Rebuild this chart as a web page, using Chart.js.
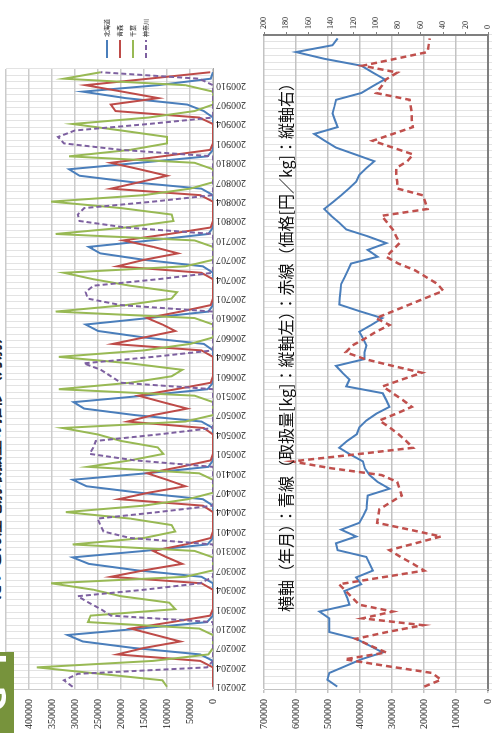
<!DOCTYPE html>
<html lang="ja">
<head>
<meta charset="UTF-8">
<title>だいこん 産地別取扱量と価格</title>
<script src="https://cdn.jsdelivr.net/npm/chart.js"></script>
<style>
    body {
        margin: 0;
        width: 493px;
        height: 733px;
        overflow: hidden;
        background: #fff;
        position: relative;
    }
    /* the slide is laid out landscape and turned a quarter turn */
    #page {
        position: absolute;
        left: 0;
        top: 0;
        width: 733px;
        height: 493px;
        overflow: hidden;
        transform-origin: 0 0;
        transform: translate(0, 733px) rotate(-90deg);
        font-family: "Noto Sans CJK JP", sans-serif;
    }
    #title {
        position: absolute;
        left: 133px;
        top: -19px;
        font-size: 16px;
        font-weight: bold;
        color: #222;
        white-space: nowrap;
    }
    #badge {
        position: absolute;
        left: 0;
        top: 0;
        width: 81px;
        height: 14px;
        background: #77933c;
        overflow: hidden;
        z-index: 5;
    }
    #badge span {
        position: absolute;
        left: 22px;
        top: -22px;
        font: bold 30px "DejaVu Sans", sans-serif;
        color: #fff;
        letter-spacing: 18px;
    }
    #topChart {
        position: absolute;
        left: 0;
        top: 0;
    }
    #bottomChart {
        position: absolute;
        left: 0;
        top: 250px;
    }
    #note {
        position: absolute;
        left: 121px;
        top: 273px;
        font-size: 16px;
        color: #111;
        white-space: nowrap;
        z-index: 4;
    }
</style>
</head>
<body>
<div id="page">
    <div id="title">だいこん産地別取扱量の推移（月別）</div>
    <div id="badge"><span>GT</span></div>
    <canvas id="topChart" width="733" height="258"></canvas>
    <canvas id="bottomChart" width="733" height="290"></canvas>
    <div id="note">横軸（年月）：青線（取扱量[kg]：縦軸左）：赤線（価格[円／kg]：縦軸右）</div>
</div>

<script>
    const years = ['2002', '2003', '2004', '2005', '2006', '2007', '2008', '2009'];
    const months = ['01', '02', '03', '04', '05', '06', '07', '08', '09', '10', '11', '12'];
    const monthLabels = [];
    years.forEach(y => months.forEach(m => monthLabels.push(y + m)));

    const seriesNames = ['北海道', '青森', '千葉', '神奈川'];

    // monthly volume by area, kg (one row of 12 per year)
    const hokkaido = [
        0, 0, 0, 0, 0, 28000, 173000, 283000, 316000, 158000, 13000, 0,
        0, 0, 0, 0, 0, 25000, 165000, 270000, 305000, 150000, 12000, 0,
        0, 0, 0, 0, 0, 22000, 160000, 275000, 305000, 145000, 10000, 0,
        0, 0, 0, 0, 0, 25000, 170000, 280000, 303000, 150000, 12000, 0,
        0, 0, 0, 0, 0, 20000, 150000, 250000, 277000, 140000, 10000, 0,
        0, 0, 0, 0, 0, 22000, 150000, 245000, 270000, 135000, 10000, 0,
        0, 0, 0, 0, 0, 25000, 175000, 290000, 313000, 160000, 12000, 0,
        0, 0, 0, 0, 0, 20000, 56000, 190000, 283000, 120000, 5000, 0
    ];
    const aomori = [
        0, 0, 0, 0, 28000, 208000, 150000, 71000, 125000, 179000, 90000, 6000,
        0, 0, 0, 0, 25000, 222000, 150000, 67000, 100000, 130000, 60000, 5000,
        0, 0, 0, 0, 22000, 205000, 140000, 60000, 100000, 143000, 70000, 5000,
        0, 0, 0, 0, 20000, 186000, 130000, 56000, 110000, 162000, 80000, 5000,
        0, 0, 0, 0, 25000, 218000, 150000, 82000, 110000, 143000, 70000, 5000,
        0, 0, 0, 0, 25000, 208000, 150000, 76000, 130000, 195000, 95000, 5000,
        0, 0, 0, 0, 28000, 222000, 160000, 100000, 160000, 222000, 110000, 6000,
        0, 0, 0, 0, 30000, 212000, 222000, 119000, 197000, 277000, 140000, 6000
    ];
    const chiba = [
        100000, 110000, 246000, 383000, 130000, 10000, 0, 0, 0, 30000, 272000, 266000,
        82000, 95000, 200000, 260000, 352000, 60000, 0, 0, 0, 40000, 305000, 150000,
        82000, 90000, 180000, 320000, 150000, 54000, 0, 0, 0, 30000, 272000, 180000,
        108000, 120000, 200000, 250000, 327000, 60000, 0, 0, 0, 40000, 335000, 180000,
        90000, 67000, 180000, 335000, 150000, 50000, 0, 0, 0, 40000, 342000, 190000,
        90000, 78000, 180000, 260000, 324000, 60000, 0, 0, 0, 40000, 342000, 190000,
        86000, 90000, 200000, 352000, 150000, 50000, 0, 0, 0, 40000, 313000, 180000,
        100000, 100000, 200000, 305000, 140000, 40000, 0, 0, 0, 60000, 324000, 244000
    ];
    const kanagawa = [
        305000, 324000, 294000, 13000, 0, 0, 0, 0, 0, 0, 0, 222000,
        244000, 270000, 294000, 150000, 28000, 0, 0, 0, 0, 0, 0, 180000,
        238000, 245000, 251000, 120000, 0, 0, 0, 0, 0, 0, 0, 170000,
        268000, 260000, 255000, 120000, 0, 0, 0, 0, 0, 0, 0, 200000,
        222000, 244000, 281000, 130000, 0, 0, 0, 0, 0, 0, 0, 200000,
        272000, 277000, 260000, 120000, 0, 0, 0, 0, 0, 0, 0, 190000,
        290000, 294000, 280000, 130000, 0, 0, 0, 0, 0, 0, 0, 200000,
        324000, 337000, 300000, 140000, 0, 0, 0, 0, 0, 0, 30000, 244000
    ];

    // market total: volume (kg, left axis) and price (yen/kg, right axis)
    const totalVolume = [
        471000, 502000, 496000, 446000, 396000, 329000, 370000, 412000, 496000, 496000, 496000, 527000,
        433000, 440000, 449000, 396000, 412000, 360000, 370000, 380000, 470000, 475000, 412000, 459000,
        402000, 390000, 380000, 378000, 376000, 308000, 345000, 370000, 385000, 391000, 430000, 465000,
        440000, 410000, 402000, 380000, 349000, 308000, 318000, 329000, 443000, 433000, 455000, 475000,
        386000, 386000, 380000, 390000, 402000, 365000, 330000, 400000, 465000, 463000, 461000, 459000,
        448000, 438000, 428000, 345000, 376000, 318000, 376000, 443000, 465000, 490000, 512000, 485000,
        459000, 435000, 412000, 402000, 380000, 355000, 415000, 475000, 510000, 543000, 470000, 478000,
        486000, 480000, 475000, 396000, 360000, 323000, 360000, 396000, 510000, 600000, 486000, 470000
    ];
    const unitPrice = [
        57, 42, 50, 90, 128, 91, 105, 118, 90, 58, 112, 85,
        115, 121, 127, 133, 95, 57, 67, 78, 88, 65, 42, 70,
        99, 98, 97, 87, 77, 79, 81, 95, 140, 175, 120, 67,
        73, 80, 88, 97, 82, 68, 76, 85, 94, 77, 59, 85,
        110, 127, 121, 110, 100, 88, 100, 85, 70, 55, 40, 45,
        55, 65, 80, 91, 85, 79, 82, 85, 90, 95, 54, 56,
        58, 81, 81, 82, 82, 72, 67, 85, 103, 85, 67, 68,
        68, 69, 70, 100, 95, 91, 81, 112, 83, 54, 53, 52
    ];

    const tickFont = { family: 'Liberation Serif', size: 10 };
    const everyThird = (v, i) => (i % 3 === 0 ? monthLabels[i] : '');
    const plainNumber = v => String(v);

    // legend beside the plot, line swatches stacked
    const sideLegend = {
        id: 'sideLegend',
        afterDraw(chart, args, opts) {
            const ctx = chart.ctx;
            chart.data.datasets.forEach((ds, k) => {
                const y = opts.top + k * opts.gap;
                ctx.save();
                ctx.strokeStyle = ds.borderColor;
                ctx.lineWidth = ds.borderWidth;
                ctx.setLineDash(ds.borderDash || []);
                ctx.beginPath();
                ctx.moveTo(opts.x, y);
                ctx.lineTo(opts.x + opts.len, y);
                ctx.stroke();
                ctx.setLineDash([]);
                ctx.fillStyle = '#111';
                ctx.font = opts.font;
                ctx.textBaseline = 'middle';
                ctx.fillText(ds.label, opts.x + opts.len + 3, y);
                ctx.restore();
            });
        }
    };

    const lineDs = (label, data, color, order, dash) => ({
        label: label,
        data: data,
        borderColor: color,
        borderWidth: 2,
        borderDash: dash || [],
        pointRadius: 0,
        tension: 0,
        fill: false,
        order: order
    });

    new Chart(document.getElementById('topChart'), {
        type: 'line',
        data: {
            labels: monthLabels,
            datasets: [
                lineDs(seriesNames[0], hokkaido, '#4a7ebb', 4),
                lineDs(seriesNames[1], aomori, '#be4b48', 3),
                lineDs(seriesNames[2], chiba, '#98b954', 2),
                lineDs(seriesNames[3], kanagawa, '#7d60a0', 1, [5, 3])
            ]
        },
        options: {
            responsive: false,
            animation: false,
            layout: { autoPadding: false, padding: { top: 6, right: 69, left: 0, bottom: 0 } },
            plugins: {
                legend: { display: false },
                tooltip: { enabled: false },
                sideLegend: { x: 675, len: 18, top: 107, gap: 13, font: '6px "Noto Sans CJK JP"' }
            },
            scales: {
                x: {
                    offset: true,
                    grid: { offset: true, color: '#e3e3e3', lineWidth: 1, drawTicks: false },
                    border: { color: '#a6a6a6' },
                    ticks: {
                        autoSkip: false,
                        maxRotation: 90,
                        minRotation: 90,
                        padding: 3,
                        color: '#222',
                        font: tickFont,
                        callback: everyThird
                    },
                    afterFit: s => { s.height = 45; }
                },
                y: {
                    min: 0,
                    max: 450000,
                    grid: { color: '#cbcbcb', lineWidth: 1.5, tickLength: 9, tickColor: 'rgba(0,0,0,0)' },
                    border: { color: '#cbcbcb' },
                    ticks: { stepSize: 50000, padding: 0, color: '#222', font: tickFont, callback: plainNumber },
                    afterFit: s => { s.width = 43; }
                }
            }
        },
        plugins: [sideLegend]
    });

    new Chart(document.getElementById('bottomChart'), {
        type: 'line',
        data: {
            labels: monthLabels,
            datasets: [
                {
                    label: '取扱量',
                    data: totalVolume,
                    yAxisID: 'yVol',
                    borderColor: '#4a7ebb',
                    borderWidth: 2,
                    pointRadius: 0,
                    tension: 0,
                    order: 2
                },
                {
                    label: '価格',
                    data: unitPrice,
                    yAxisID: 'yPrice',
                    borderColor: '#c0504d',
                    borderWidth: 2.5,
                    borderDash: [6, 4],
                    pointRadius: 0,
                    tension: 0,
                    order: 1
                }
            ]
        },
        options: {
            responsive: false,
            animation: false,
            layout: { autoPadding: false, padding: { top: 14, right: 0, left: 0, bottom: 0 } },
            plugins: { legend: { display: false }, tooltip: { enabled: false } },
            scales: {
                x: {
                    offset: true,
                    grid: { offset: true, color: '#e3e3e3', lineWidth: 1, tickLength: 4 },
                    border: { color: '#7f7f7f', width: 2 },
                    ticks: {
                        autoSkip: false,
                        maxRotation: 90,
                        minRotation: 90,
                        color: '#222',
                        font: tickFont,
                        callback: everyThird
                    },
                    afterFit: s => { s.height = 52; }
                },
                yVol: {
                    position: 'left',
                    min: 0,
                    max: 700000,
                    grid: { color: '#c3c3c3', lineWidth: 1.5, tickLength: 3 },
                    border: { color: '#c3c3c3' },
                    ticks: { stepSize: 100000, padding: 6, color: '#222', font: tickFont, callback: plainNumber },
                    afterFit: s => { s.width = 43; }
                },
                yPrice: {
                    position: 'right',
                    min: 0,
                    max: 200,
                    grid: { drawOnChartArea: false, tickLength: 3, color: '#7f7f7f' },
                    border: { color: '#7f7f7f', width: 2 },
                    ticks: { stepSize: 20, padding: 3, color: '#222', font: { family: 'Liberation Serif', size: 8 } },
                    afterFit: s => { s.width = 35; }
                }
            }
        }
    });
</script>
</body>
</html>
